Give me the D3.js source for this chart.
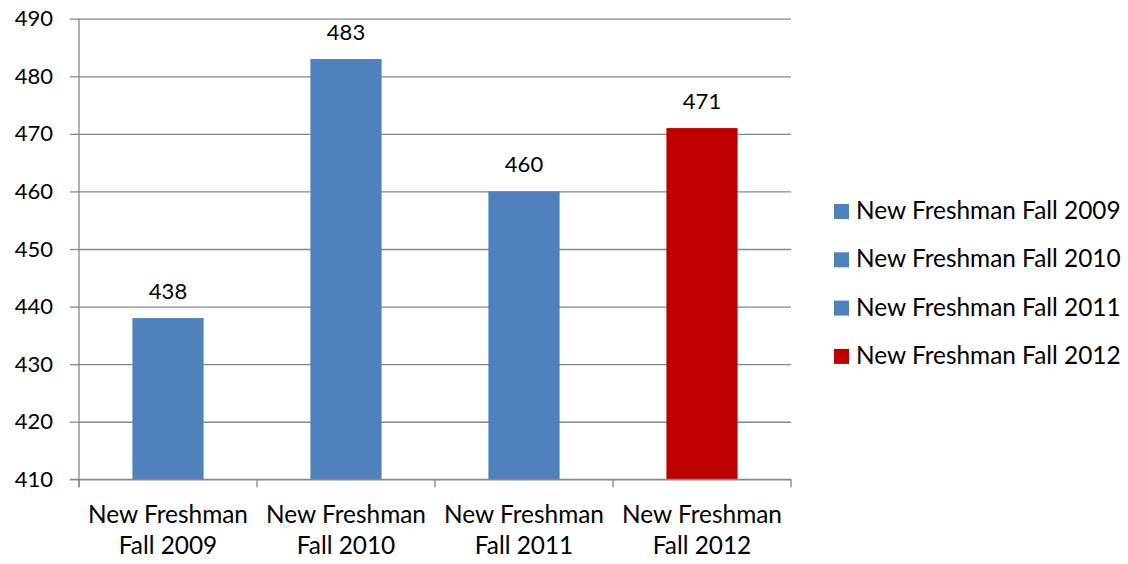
<!DOCTYPE html>
<html>
<head>
<meta charset="utf-8">
<script src="https://cdn.jsdelivr.net/npm/d3@7"></script>
<style>
  html, body { margin: 0; padding: 0; background: #fff; }
  svg { display: block; }
  text { font-family: Lato, "Open Sans", sans-serif; fill: #000; }
</style>
</head>
<body>
<svg id="chart" width="1128" height="564"></svg>
<script>
// Fall freshman counts by entering cohort
const categories = ["New Freshman Fall 2009", "New Freshman Fall 2010", "New Freshman Fall 2011", "New Freshman Fall 2012"];
const categoryLines = [["New Freshman", "Fall 2009"], ["New Freshman", "Fall 2010"], ["New Freshman", "Fall 2011"], ["New Freshman", "Fall 2012"]];
const values = [438, 483, 460, 471];
const barColors = ["#4F81BD", "#4F81BD", "#4F81BD", "#C00000"];
const yTicks = [410, 420, 430, 440, 450, 460, 470, 480, 490];

const svg = d3.select("#chart");
const plot = { left: 79, right: 791, top: 18.7, bottom: 479.3 };
const gridColor = "#868686";
const numSize = 22;
const wordSize = 24.4;

const x = d3.scaleBand()
  .domain(categories)
  .range([plot.left, plot.right])
  .paddingInner(0.6)
  .paddingOuter(0.3);

const y = d3.scaleLinear()
  .domain([410, 490])
  .range([plot.bottom, plot.top]);

// Horizontal gridlines with left tick stubs
const yAxis = d3.axisLeft(y)
  .tickValues(yTicks)
  .tickSize(-(plot.right - plot.left))
  .tickSizeOuter(0)
  .tickFormat(d3.format("d"));

const gy = svg.append("g")
  .attr("transform", `translate(${plot.left},0)`)
  .call(yAxis);
gy.select(".domain").remove();
gy.selectAll(".tick line").attr("stroke", gridColor).attr("stroke-width", 1.3);
gy.selectAll(".tick").append("line")
  .attr("x1", -9).attr("x2", 0)
  .attr("stroke", gridColor).attr("stroke-width", 1.3);
gy.selectAll(".tick text")
  .style("font-size", numSize + "px")
  .attr("fill", "#000")
  .attr("x", -26);

// Vertical axis line
svg.append("line")
  .attr("x1", plot.left).attr("x2", plot.left)
  .attr("y1", plot.top).attr("y2", plot.bottom + 8)
  .attr("stroke", gridColor).attr("stroke-width", 1.3);

// Bars
svg.append("g").selectAll("rect")
  .data(values)
  .join("rect")
  .attr("x", (d, i) => x(categories[i]))
  .attr("y", d => y(d))
  .attr("width", x.bandwidth())
  .attr("height", d => y(410) - y(d))
  .attr("fill", (d, i) => barColors[i]);

// Value labels
svg.append("g").selectAll("text")
  .data(values)
  .join("text")
  .attr("x", (d, i) => x(categories[i]) + x.bandwidth() / 2)
  .attr("y", d => y(d) - 19)
  .attr("text-anchor", "middle")
  .style("font-size", numSize + "px")
  .text(d => d);

// Category axis: baseline with tick marks at band edges
const step = x.step();
const edges = d3.range(categories.length + 1).map(i => plot.left + i * step);
svg.append("line")
  .attr("x1", plot.left - 9).attr("x2", plot.right)
  .attr("y1", plot.bottom).attr("y2", plot.bottom)
  .attr("stroke", gridColor).attr("stroke-width", 1.3);
svg.append("g").selectAll("line")
  .data(edges)
  .join("line")
  .attr("x1", d => d).attr("x2", d => d)
  .attr("y1", plot.bottom).attr("y2", plot.bottom + 8)
  .attr("stroke", gridColor).attr("stroke-width", 1.3);

// Two-line category labels
const cat = svg.append("g").selectAll("text")
  .data(categoryLines)
  .join("text")
  .attr("text-anchor", "middle")
  .style("font-size", wordSize + "px")
  .attr("transform", (d, i) => `translate(${x(categories[i]) + x.bandwidth() / 2},0)`);
cat.selectAll("tspan")
  .data(d => d)
  .join("tspan")
  .attr("x", 0)
  .attr("y", (d, j) => 523 + j * 31)
  .text(d => d);

// Legend
const legend = svg.append("g").selectAll("g")
  .data(categories)
  .join("g")
  .attr("transform", (d, i) => `translate(834,${219 + i * 48.3})`);
legend.append("rect")
  .attr("x", 0).attr("y", -15)
  .attr("width", 15).attr("height", 15)
  .attr("fill", (d, i) => barColors[i]);
legend.append("text")
  .attr("x", 22).attr("y", 0)
  .style("font-size", wordSize + "px")
  .text(d => d);
</script>
</body>
</html>
